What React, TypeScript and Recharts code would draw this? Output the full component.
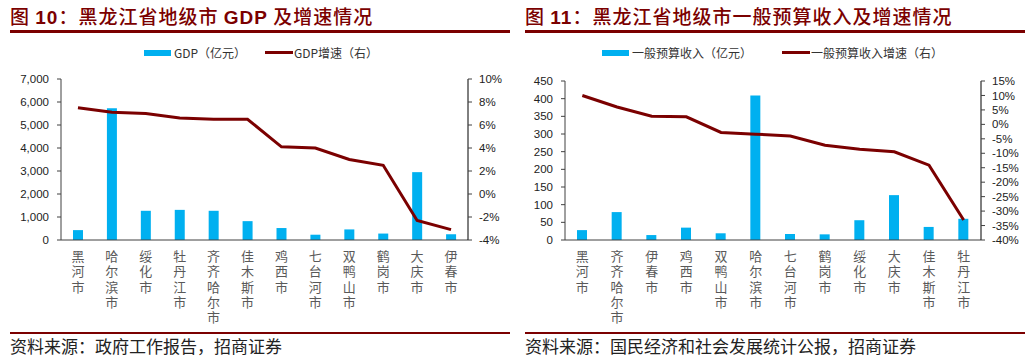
import React from 'react';
import { ComposedChart, Bar, Line, XAxis, YAxis } from 'recharts';

const gdpCities = ['黑河市', '哈尔滨市', '绥化市', '牡丹江市', '齐齐哈尔市', '佳木斯市', '鸡西市', '七台河市', '双鸭山市', '鹤岗市', '大庆市', '伊春市'];
const gdpValues = [430, 5730, 1270, 1310, 1270, 820, 520, 230, 460, 280, 2950, 250];
const gdpGrowth = [7.5, 7.1, 7.0, 6.6, 6.5, 6.5, 4.1, 4.0, 3.0, 2.5, -2.3, -3.1];
const gdpTicks = [0, 1000, 2000, 3000, 4000, 5000, 6000, 7000];
const gdpGrowthTicks = [-4, -2, 0, 2, 4, 6, 8, 10];

const budgetCities = ['黑河市', '齐齐哈尔市', '伊春市', '鸡西市', '双鸭山市', '哈尔滨市', '七台河市', '鹤岗市', '绥化市', '大庆市', '佳木斯市', '牡丹江市'];
const budgetValues = [28, 79, 14, 35, 19, 409, 17, 16, 56, 127, 37, 60];
const budgetGrowth = [10.0, 6.0, 2.8, 2.6, -2.8, -3.4, -4.0, -7.2, -8.6, -9.5, -14.1, -33.1];
const budgetTicks = [0, 50, 100, 150, 200, 250, 300, 350, 400, 450];
const budgetGrowthTicks = [-40, -35, -30, -25, -20, -15, -10, -5, 0, 5, 10, 15];

const BLUE = '#00B0F0';
const RED = '#7B0000';
const CJK = '"Noto Sans CJK SC", sans-serif';
const LATIN = '"Liberation Sans", Arial, sans-serif';

// vertical city names, one character per line
const CityTick = (props: any) => {
  const { x, y, payload } = props;
  const chars = String(payload.value).split('');
  return (
    <text x={x} y={y} textAnchor="middle" fill="#595959" fontSize={13} fontFamily={CJK}>
      {chars.map((ch, i) => (
        <tspan key={i} x={x} dy={i === 0 ? 21 : 15.3}>
          {ch}
        </tspan>
      ))}
    </text>
  );
};

const fmtThousands = (v: number) => v.toLocaleString('en-US');
const fmtPct = (v: number) => `${v}%`;

interface PanelProps {
  left: number;
  title: React.ReactNode;
  source: string;
  data: any[];
  barName: string;
  lineName: string;
  leftTicks: number[];
  rightTicks: number[];
  leftFmt: (v: number) => string;
  leftWidth: number;
  marginLeft: number;
  rightWidth: number;
  marginRight: number;
  top: number;
  legendBarX: number;
  legendLineX: number;
}

const Panel = (p: PanelProps) => (
  <div style={{ position: 'absolute', left: p.left, top: 0, width: 512, height: 357 }}>
    <div
      style={{
        position: 'absolute', left: 10, top: 6, fontSize: 19, lineHeight: '20px', letterSpacing: 1,
        color: RED, fontFamily: CJK, fontWeight: 500, whiteSpace: 'nowrap',
      }}
    >
      {p.title}
    </div>
    <div style={{ position: 'absolute', left: 10, top: 30, width: 500, height: 3, background: RED }} />

    <div style={{ position: 'absolute', left: p.legendBarX, top: 44, fontSize: 12, color: '#333', fontFamily: CJK, display: 'flex', alignItems: 'center', whiteSpace: 'nowrap' }}>
      <span style={{ display: 'inline-block', width: 27, height: 6, background: BLUE, marginRight: 3 }} />
      <span>{p.barName}</span>
    </div>
    <div style={{ position: 'absolute', left: p.legendLineX, top: 44, fontSize: 12, color: '#333', fontFamily: CJK, display: 'flex', alignItems: 'center', whiteSpace: 'nowrap' }}>
      <span style={{ display: 'inline-block', width: 28, height: 3, background: RED, marginRight: 1 }} />
      <span>{p.lineName}</span>
    </div>

    <div style={{ position: 'absolute', left: 0, top: 0 }}>
      <ComposedChart
        width={512}
        height={357}
        data={p.data}
        margin={{ top: p.top, right: p.marginRight, left: p.marginLeft, bottom: 37 }}
      >
        <XAxis
          dataKey="city"
          interval={0}
          tickLine={false}
          tickSize={0}
          tickMargin={0}
          height={80}
          axisLine={{ stroke: '#404040' }}
          tick={<CityTick />}
        />
        <YAxis
          yAxisId="left"
          domain={[p.leftTicks[0], p.leftTicks[p.leftTicks.length - 1]]}
          ticks={p.leftTicks}
          interval={0}
          width={p.leftWidth}
          tickSize={4}
          tickMargin={8}
          tickFormatter={p.leftFmt}
          axisLine={{ stroke: '#404040' }}
          tickLine={{ stroke: '#404040' }}
          tick={{ fill: '#222', fontSize: 11.5, fontFamily: LATIN }}
        />
        <YAxis
          yAxisId="right"
          orientation="right"
          domain={[p.rightTicks[0], p.rightTicks[p.rightTicks.length - 1]]}
          ticks={p.rightTicks}
          interval={0}
          width={p.rightWidth}
          tickSize={4}
          tickMargin={7}
          tickFormatter={fmtPct}
          axisLine={{ stroke: '#000' }}
          tickLine={{ stroke: '#404040' }}
          tick={{ fill: '#222', fontSize: 11.5, fontFamily: LATIN, textAnchor: 'start' }}
        />
        <Bar yAxisId="left" dataKey="value" fill={BLUE} barSize={10} isAnimationActive={false} />
        <Line
          yAxisId="right"
          type="linear"
          dataKey="growth"
          stroke={RED}
          strokeWidth={3}
          dot={false}
          isAnimationActive={false}
        />
      </ComposedChart>
    </div>

    <div style={{ position: 'absolute', left: 10, top: 332, width: 500, height: 2, background: RED }} />
    <div style={{ position: 'absolute', left: 10, top: 337, fontSize: 17, lineHeight: '18px', color: '#222', fontFamily: CJK, whiteSpace: 'nowrap' }}>
      {p.source}
    </div>
  </div>
);

const gdpData = gdpCities.map((city, i) => ({ city, value: gdpValues[i], growth: gdpGrowth[i] }));
const budgetData = budgetCities.map((city, i) => ({ city, value: budgetValues[i], growth: budgetGrowth[i] }));

export default function App() {
  return (
    <div style={{ position: 'absolute', left: 0, top: 0, width: 1027, height: 357, background: '#fff', overflow: 'hidden' }}>
      <Panel
        left={0}
        title={<>图 <b style={{ fontFamily: LATIN }}>10</b>：黑龙江省地级市 <b style={{ fontFamily: LATIN }}>GDP</b> 及增速情况</>}
        source="资料来源：政府工作报告，招商证券"
        data={gdpData}
        barName="GDP（亿元）"
        lineName="GDP增速（右）"
        leftTicks={gdpTicks}
        rightTicks={gdpGrowthTicks}
        leftFmt={fmtThousands}
        leftWidth={50}
        marginLeft={11}
        rightWidth={44}
        marginRight={0}
        top={79}
        legendBarX={144}
        legendLineX={265}
      />
      <Panel
        left={515}
        title={<>图 <b style={{ fontFamily: LATIN }}>11</b>：黑龙江省地级市一般预算收入及增速情况</>}
        source="资料来源：国民经济和社会发展统计公报，招商证券"
        data={budgetData}
        barName="一般预算收入（亿元）"
        lineName="一般预算收入增速（右）"
        leftTicks={budgetTicks}
        rightTicks={budgetGrowthTicks}
        leftFmt={(v: number) => String(v)}
        leftWidth={40}
        marginLeft={10}
        rightWidth={46}
        marginRight={0}
        top={81}
        legendBarX={87}
        legendLineX={267}
      />
    </div>
  );
}
